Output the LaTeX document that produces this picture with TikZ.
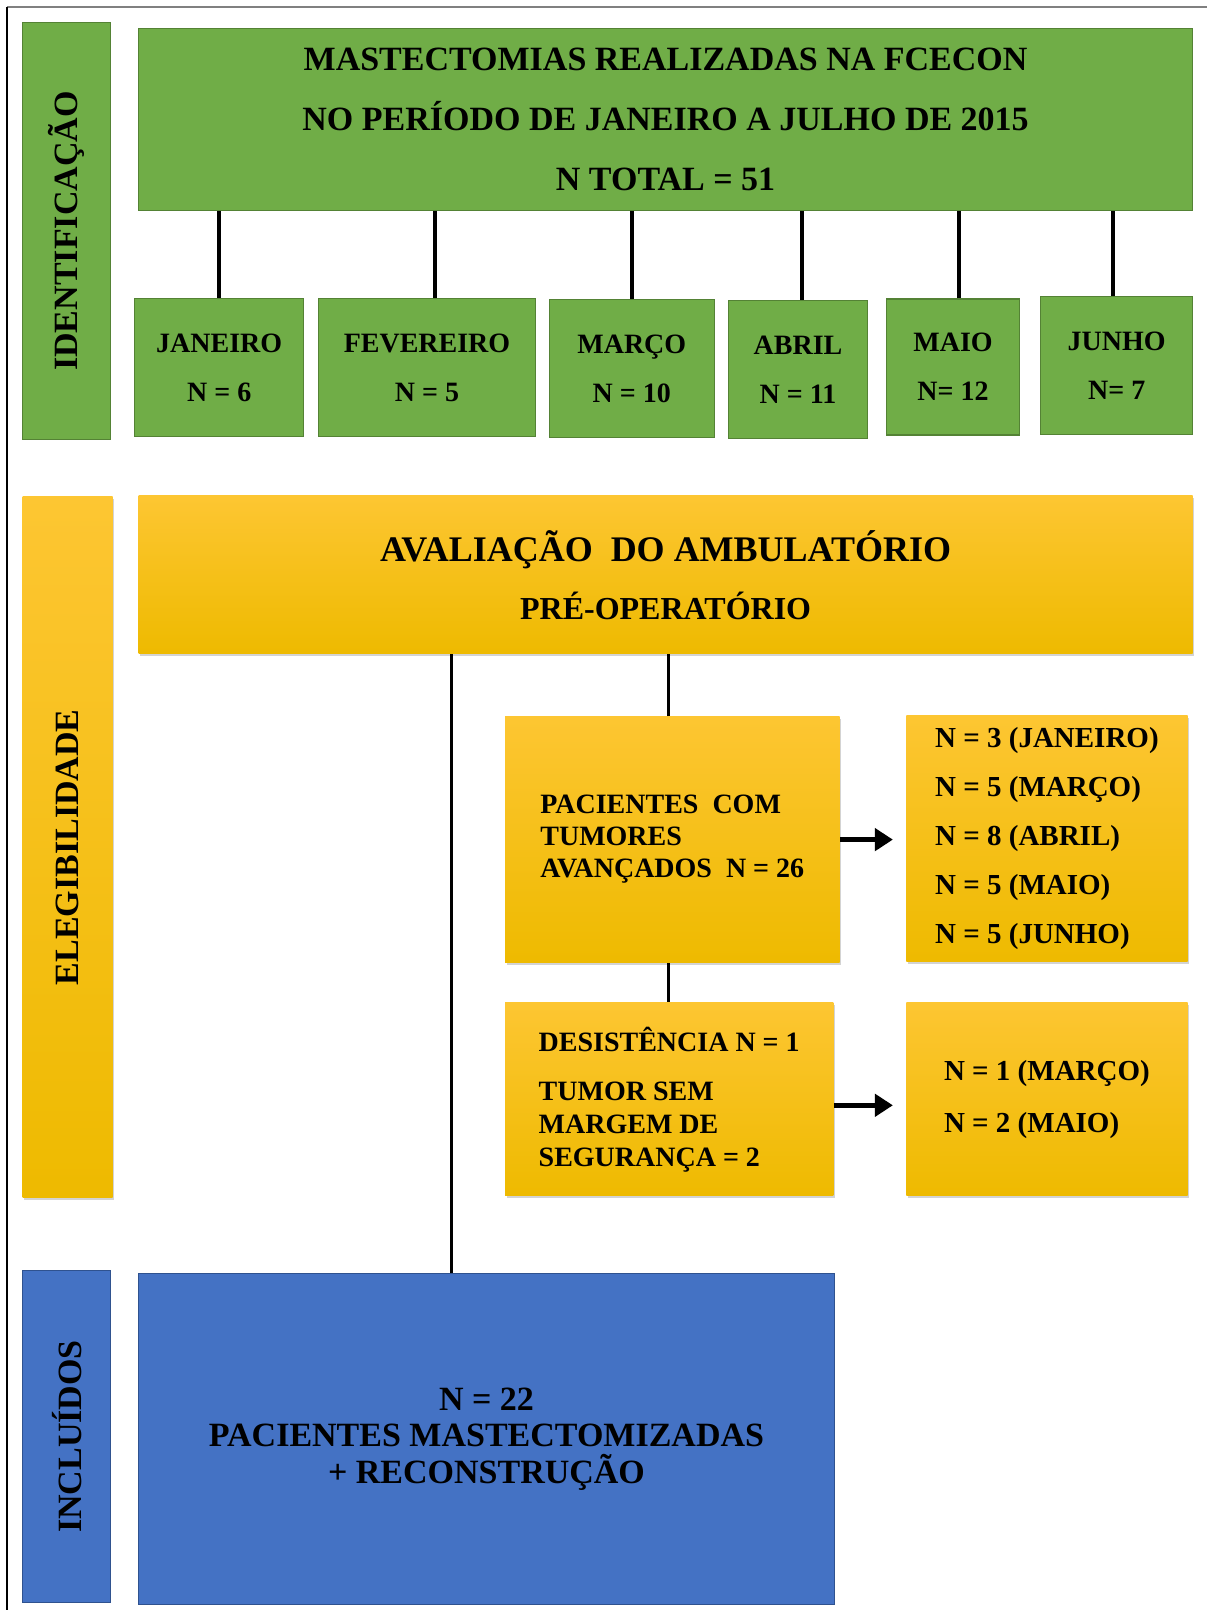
\documentclass[tikz,border=0pt]{standalone}
\usepackage{fontspec}
\setmainfont{Liberation Serif}
\usetikzlibrary{arrows.meta, positioning, shadows}
\definecolor{green1}{RGB}{112,173,71}
\definecolor{green2}{RGB}{84,130,53}
\definecolor{gold1}{RGB}{253,198,50}
\definecolor{gold2}{RGB}{255,192,0}
\definecolor{gold3}{RGB}{238,186,0}
\definecolor{blue1}{RGB}{68,114,196}
\definecolor{blue2}{RGB}{47,82,143}

\tikzset{
  greenbox/.style={draw=green2, line width=0.6pt, fill=green1, inner sep=0pt},
  goldbox/.style={top color=gold1, middle color=gold2, bottom color=gold3, inner sep=0pt,
    drop shadow={shadow xshift=0.8pt, shadow yshift=-1.2pt, opacity=0.35}},
  bluebox/.style={draw=blue2, line width=0.6pt, fill=blue1, inner sep=0pt},
  sidefont/.style={font=\bfseries\fontsize{17}{17}\selectfont},
  link/.style={line width=2pt},
  thinlink/.style={line width=1.6pt},
  bigarrow/.style={line width=2.8pt, -{Triangle[length=9pt,width=11pt]}, shorten >=6.5pt}
}

\begin{document}
\begin{tikzpicture}[x=0.5pt, y=-0.5pt]
  \useasboundingbox (0,0) rectangle (1207,1610);
  \draw[gray, line width=0.8pt] (7,7) -- (1207,7);
  \draw[black, line width=0.8pt] (7,7) -- (7,1610);

  % identificacao
  \node[greenbox, sidefont, minimum width=44pt, minimum height=208.5pt] (idl) at (66.7,231) {\rotatebox{90}{IDENTIFICAÇÃO}};
  \node[greenbox, minimum width=527pt, minimum height=91pt, align=center,
        font=\bfseries\fontsize{17}{30}\selectfont] (total) at (665.6,119.6)
        {MASTECTOMIAS REALIZADAS NA FCECON\\NO PERÍODO DE JANEIRO A JULHO DE 2015\\N TOTAL = 51};

  \node[greenbox, minimum width=84.6pt, minimum height=69pt, align=center, font=\bfseries\fontsize{14}{24.5}\selectfont] (jan) at (219.2,367.5) {JANEIRO\\N = 6};
  \node[greenbox, minimum width=108.8pt, minimum height=69pt, align=center, font=\bfseries\fontsize{14}{24.5}\selectfont] (fev) at (427,367.5) {FEVEREIRO\\N = 5};
  \node[greenbox, minimum width=82.6pt, minimum height=69pt, align=center, font=\bfseries\fontsize{14}{24.5}\selectfont] (mar) at (631.8,368.5) {MARÇO\\N = 10};
  \node[greenbox, minimum width=69.3pt, minimum height=69pt, align=center, font=\bfseries\fontsize{14}{24.5}\selectfont] (abr) at (798,369.5) {ABRIL\\N = 11};
  \node[greenbox, minimum width=66.2pt, minimum height=68pt, align=center, font=\bfseries\fontsize{14}{24.5}\selectfont] (mai) at (953,367) {MAIO\\N= 12};
  \node[greenbox, minimum width=76pt, minimum height=69pt, align=center, font=\bfseries\fontsize{14}{24.5}\selectfont] (jun) at (1116.7,365.4) {JUNHO\\N= 7};

  \draw[link] (jan.north) -- (jan.north |- total.south);
  \draw[link] ([xshift=4pt]fev.north) -- ([xshift=4pt]fev.north |- total.south);
  \draw[link] (mar.north) -- (mar.north |- total.south);
  \draw[link] ([xshift=2pt]abr.north) -- ([xshift=2pt]abr.north |- total.south);
  \draw[link] ([xshift=3pt]mai.north) -- ([xshift=3pt]mai.north |- total.south);
  \draw[link] ([xshift=-2pt]jun.north) -- ([xshift=-2pt]jun.north |- total.south);

  % elegibilidade
  \node[goldbox, sidefont, minimum width=45pt, minimum height=350.5pt] (elg) at (67.7,847.3) {\rotatebox{90}{ELEGIBILIDADE}};
  \node[goldbox, minimum width=527pt, minimum height=79pt, align=center,
        font=\bfseries\fontsize{16}{29}\selectfont] (aval) at (665.6,574.8)
        {{\fontsize{18}{29}\selectfont AVALIAÇÃO\ \ DO AMBULATÓRIO}\\PRÉ-OPERATÓRIO};

  \node[goldbox, minimum width=167.3pt, minimum height=123.2pt, align=left,
        font=\bfseries\fontsize{14}{16}\selectfont] (pac) at (672.3,839.6)
        {PACIENTES\ \ COM\\TUMORES\\AVANÇADOS\ \ N = 26};
  \node[goldbox, minimum width=140.6pt, minimum height=123.2pt, align=left,
        font=\bfseries\fontsize{14.5}{24.4}\selectfont] (mesA) at (1046.9,838.6)
        {N = 3 (JANEIRO)\\N = 5 (MARÇO)\\N = 8 (ABRIL)\\N = 5 (MAIO)\\N = 5 (JUNHO)};

  \node[goldbox, minimum width=164.2pt, minimum height=96.5pt, align=left,
        font=\bfseries\fontsize{14}{16.5}\selectfont] (des) at (669.2,1099.3)
        {DESISTÊNCIA N = 1\\[8pt]TUMOR SEM\\MARGEM DE\\SEGURANÇA = 2};
  \node[goldbox, minimum width=140.6pt, minimum height=96.5pt, align=left,
        font=\bfseries\fontsize{14.5}{26}\selectfont] (mesB) at (1046.9,1099.3)
        {N = 1 (MARÇO)\\N = 2 (MAIO)};

  \draw[thinlink] ([xshift=-2pt]pac.north) -- ([xshift=-2pt]pac.north |- aval.south);
  \draw[thinlink] ([xshift=-2pt]pac.south) -- ([xshift=-2pt]pac.south |- des.north);
  \draw[bigarrow] (pac.east) -- (pac.east -| mesA.west);
  \draw[bigarrow] ([yshift=-3pt]des.east) -- ([yshift=-3pt]des.east -| mesB.west);

  % incluidos
  \node[bluebox, sidefont, minimum width=44pt, minimum height=165.8pt] (inc) at (66.7,1436.5) {\rotatebox{90}{INCLUÍDOS}};
  \node[bluebox, minimum width=348pt, minimum height=165.3pt, align=center,
        font=\bfseries\fontsize{17}{18.3}\selectfont] (final) at (486.5,1439)
        {N = 22\\PACIENTES MASTECTOMIZADAS\\+ RECONSTRUÇÃO};

  \coordinate (drop) at ([xshift=-17.5pt]final.north);
  \draw[thinlink] (drop) -- (drop |- aval.south);
\end{tikzpicture}
\end{document}
